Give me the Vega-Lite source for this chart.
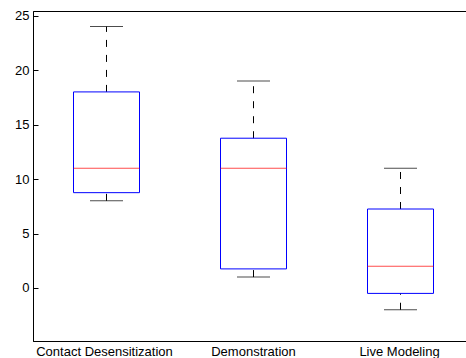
{
  "$schema": "https://vega.github.io/schema/vega-lite/v6.json",
  "width": 434,
  "height": 330,
  "autosize": {"type": "none"},
  "padding": {"left": 33, "top": 11, "right": 0, "bottom": 17},
  "background": "white",
  "config": {
    "view": {"stroke": "black", "strokeWidth": 1},
    "axis": {
      "labelFont": "Liberation Sans",
      "labelFontSize": 13,
      "labelColor": "black",
      "domainColor": "black",
      "domainWidth": 1,
      "tickColor": "black",
      "grid": false,
      "title": null
    }
  },
  "data": {
    "values": [
      {"group": "Contact Desensitization", "min": 8, "q1": 8.75, "median": 11, "q3": 18, "max": 24},
      {"group": "Demonstration", "min": 1, "q1": 1.75, "median": 11, "q3": 13.75, "max": 19},
      {"group": "Live Modeling", "min": -2, "q1": -0.5, "median": 2, "q3": 7.25, "max": 11}
    ]
  },
  "encoding": {
    "x": {
      "field": "group",
      "type": "nominal",
      "sort": null,
      "scale": {"range": [0, 441], "paddingInner": 0, "paddingOuter": 0},
      "axis": {
        "ticks": false,
        "labelAngle": 0,
        "labelPadding": 4,
        "title": null,
        "labelOffset": {"expr": "datum.value == 'Contact Desensitization' ? -2 : (datum.value == 'Live Modeling' ? -1 : 0)"}
      }
    }
  },
  "layer": [
    {
      "mark": {"type": "rule", "color": "black", "strokeWidth": 1, "strokeDash": [7, 8]},
      "encoding": {
        "y": {"field": "q3", "type": "quantitative", "scale": {"domain": [-4.87, 25.43], "nice": false, "zero": false},
          "axis": {"values": [0, 5, 10, 15, 20, 25], "tickSize": -5, "labelPadding": 9, "title": null}},
        "y2": {"field": "max"}
      }
    },
    {
      "mark": {"type": "rule", "color": "black", "strokeWidth": 1, "strokeDash": [7, 8]},
      "encoding": {
        "y": {"field": "min", "type": "quantitative", "title": null},
        "y2": {"field": "q1"}
      }
    },
    {
      "mark": {"type": "bar", "size": 66, "fillOpacity": 0, "stroke": "#0000ff", "strokeWidth": 1},
      "encoding": {
        "y": {"field": "q1", "type": "quantitative", "title": null},
        "y2": {"field": "q3"}
      }
    },
    {
      "mark": {"type": "tick", "orient": "horizontal", "size": 66, "thickness": 1, "color": "#ff0000"},
      "encoding": {
        "y": {"field": "median", "type": "quantitative", "title": null}
      }
    },
    {
      "mark": {"type": "tick", "orient": "horizontal", "size": 33, "thickness": 1, "color": "black"},
      "encoding": {
        "y": {"field": "max", "type": "quantitative", "title": null}
      }
    },
    {
      "mark": {"type": "tick", "orient": "horizontal", "size": 33, "thickness": 1, "color": "black"},
      "encoding": {
        "y": {"field": "min", "type": "quantitative", "title": null}
      }
    }
  ]
}
